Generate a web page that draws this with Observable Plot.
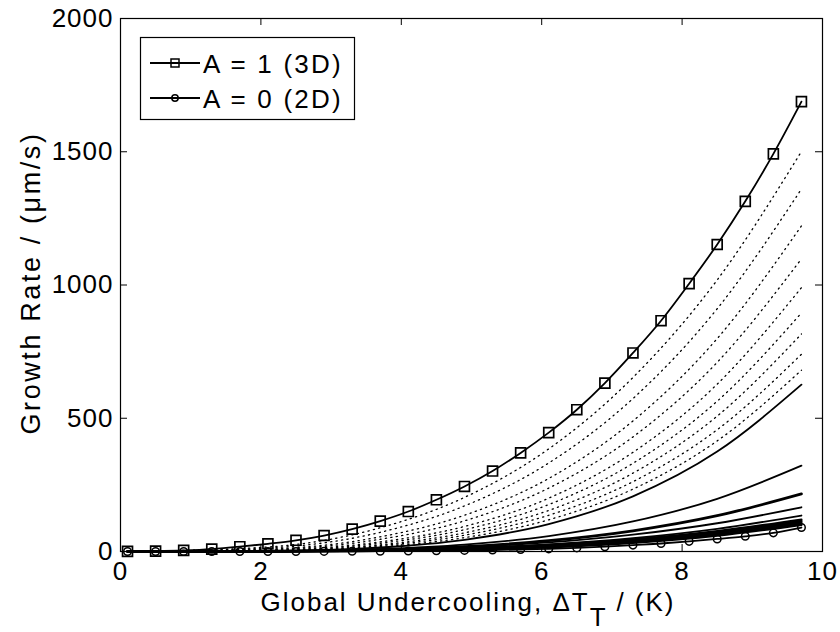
<!DOCTYPE html>
<html><head><meta charset="utf-8">
<script src="https://cdn.jsdelivr.net/npm/d3@7"></script>
<script src="https://cdn.jsdelivr.net/npm/@observablehq/plot@0.6"></script>
<style>
body{margin:0;background:#fff}
#chart{position:relative;width:840px;height:632px}
#chart svg g[aria-label="x-axis tick label"] text,
#chart svg g[aria-label="y-axis tick label"] text{letter-spacing:1px}
</style>
</head><body><div id="chart"></div>
<script>
// ---- data ----
const xTicks = [0, 2, 4, 6, 8, 10];
const yTicks = [0, 500, 1000, 1500, 2000];

// marker positions (global undercooling, K)
const markerDT = [0.1,0.5,0.9,1.3,1.7,2.1,2.5,2.9,3.3,3.7,4.1,4.5,4.9,5.3,5.7,6.1,6.5,6.9,7.3,7.7,8.1,8.5,8.9,9.3,9.7];
// A = 1 (3D), growth rate µm/s
const rate3D = [0.5,1.5,4,9,18,29,42,60,84,114,150,194,244,302,370,446,532,632,745,866,1005,1152,1314,1492,1688];
// A = 0 (2D)
const rate2D = [0,0,0,0,0,0.1,0.2,0.4,0.7,1.2,1.9,2.9,4.2,5.4,7.5,10,13.5,18,24,30,38,47,57,70,90];

// intermediate curves, sampled on a coarser grid
const gridDT = [0.1, 2.1, 3.7, 4.9, 6.1, 7.3, 8.5, 9.7];
const dottedRates = [
  [0, 17, 89, 203, 385, 653, 1019, 1501],
  [0, 13, 72, 171, 332, 574, 911, 1360],
  [0, 9, 55, 136, 274, 490, 799, 1222],
  [0, 7, 46, 115, 238, 430, 710, 1098],
  [0, 5, 36, 94, 200, 372, 628, 990],
  [0, 4, 31, 82, 176, 331, 564, 895],
  [0, 3.3, 25, 70, 154, 294, 508, 816],
  [0, 2.8, 22, 61, 136, 262, 457, 740],
  [0, 2.2, 18, 52, 119, 234, 415, 680]
];
const solidRates = [
  [0, 1.6, 15, 44, 103, 207, 375, 626],
  [0, 1.1, 9.1, 25.7, 57.8, 112.6, 197.7, 322],
  [0, 0.9, 6.3, 16.3, 34.3, 63.2, 106, 166],
  [0, 0.6, 4.6, 12.4, 26.6, 50, 85, 135]
];
const thickRates = [0, 0.9, 6.7, 18.5, 40.7, 77.7, 134.3, 216];
const bandRates = [
  [0, 0.7, 4.5, 11.8, 24.8, 45.7, 76.6, 120],
  [0, 0.5, 3.6, 10.2, 22.0, 42.0, 72.0, 115],
  [0, 0.4, 3.1, 8.8, 19.8, 38.5, 67.5, 110],
  [0, 0.3, 2.6, 7.6, 17.6, 35.2, 63.0, 105],
  [0, 0.2, 2.1, 6.5, 15.6, 32.1, 59, 100]
];

const legendLabels = ["A = 1 (3D)", "A = 0 (2D)"];
const xLabelMain = "Global Undercooling, \u0394T";
const xLabelSub = "T";
const xLabelTail = " / (K)";
const yLabel = "Growth Rate / (\u03BCm/s)";

// ---- build tables ----
const toRows = (sets) => sets.flatMap((vals, id) => vals.map((v, i) => ({id, x: gridDT[i], y: v})));
const dottedData = toRows(dottedRates);
const solidData = toRows(solidRates);
const bandData = toRows(bandRates);
const thickData = thickRates.map((v, i) => ({x: gridDT[i], y: v}));
const data3D = rate3D.map((v, i) => ({x: markerDT[i], y: v}));
const data2D = rate2D.map((v, i) => ({x: markerDT[i], y: v}));

const W = 840, H = 632, mL = 120, mR = 18, mT = 18, mB = 81;
const pw = W - mL - mR, ph = H - mT - mB, tk = 7;
const FONT = "'Liberation Sans', Arial, Helvetica, sans-serif";

const chart = Plot.plot({
  width: W, height: H,
  marginLeft: mL, marginRight: mR, marginTop: mT, marginBottom: mB,
  style: {fontFamily: FONT, fontSize: "26px", color: "#000", background: "#fff", overflow: "visible"},
  x: {domain: [0, 10]},
  y: {domain: [0, 2000]},
  marks: [
    Plot.line(dottedData, {x: "x", y: "y", z: "id", curve: "monotone-x", stroke: "#000", strokeWidth: 1.3, strokeDasharray: "1.2,4.3"}),
    Plot.line(solidData, {x: "x", y: "y", z: "id", curve: "monotone-x", stroke: "#000", strokeWidth: 1.8}),
    Plot.line(bandData, {x: "x", y: "y", z: "id", curve: "monotone-x", stroke: "#000", strokeWidth: 2.2}),
    Plot.line(thickData, {x: "x", y: "y", curve: "monotone-x", stroke: "#000", strokeWidth: 2.8}),
    Plot.line(data2D, {x: "x", y: "y", curve: "monotone-x", stroke: "#000", strokeWidth: 1.8}),
    Plot.dot(data2D, {x: "x", y: "y", symbol: "circle", r: 3.8, stroke: "#000", fill: "none", strokeWidth: 1.5}),
    Plot.line(data3D, {x: "x", y: "y", curve: "monotone-x", stroke: "#000", strokeWidth: 1.8}),
    Plot.dot(data3D, {x: "x", y: "y", symbol: "square", r: 5.6, stroke: "#000", fill: "none", strokeWidth: 1.7}),
    Plot.frame({stroke: "#000", strokeWidth: 1.2}),
    Plot.tickX(xTicks, {x: d => d, insetTop: ph - tk, stroke: "#000"}),
    Plot.tickX(xTicks, {x: d => d, insetBottom: ph - tk, stroke: "#000"}),
    Plot.tickY(yTicks, {y: d => d, insetRight: pw - tk, stroke: "#000"}),
    Plot.tickY(yTicks, {y: d => d, insetLeft: pw - tk, stroke: "#000"}),
    Plot.axisX(xTicks, {tickSize: 0, tickPadding: 10, label: null, fontSize: 26}),
    Plot.axisY(yTicks, {tickSize: 0, tickPadding: 7, label: null, fontSize: 26, tickFormat: d => String(d)})
  ]
});
document.getElementById("chart").appendChild(chart);

const svg = d3.select(chart);
// axis labels
const xl = svg.append("text")
  .attr("x", 468).attr("y", 611).attr("text-anchor", "middle")
  .attr("font-family", FONT).attr("font-size", 26).attr("letter-spacing", 2).attr("fill", "#000");
xl.append("tspan").text(xLabelMain);
xl.append("tspan").attr("dy", 15).text(xLabelSub);
xl.append("tspan").attr("dy", -15).text(xLabelTail);

svg.append("text")
  .attr("transform", "translate(40,283) rotate(-90)")
  .attr("text-anchor", "middle")
  .attr("font-family", FONT).attr("font-size", 27).attr("letter-spacing", 2.6).attr("fill", "#000")
  .text(yLabel);

// legend
const lg = svg.append("g");
lg.append("rect").attr("x", 140.5).attr("y", 37.5).attr("width", 214).attr("height", 82)
  .attr("fill", "#fff").attr("stroke", "#000").attr("stroke-width", 1.2);
const rows = [63, 98];
legendLabels.forEach((lab, i) => {
  const yy = rows[i];
  lg.append("line").attr("x1", 150).attr("x2", 200).attr("y1", yy).attr("y2", yy)
    .attr("stroke", "#000").attr("stroke-width", 1.8);
  if (i === 0) {
    lg.append("rect").attr("x", 171).attr("y", yy - 4).attr("width", 8).attr("height", 8)
      .attr("fill", "none").attr("stroke", "#000").attr("stroke-width", 1.5);
  } else {
    lg.append("circle").attr("cx", 175).attr("cy", yy).attr("r", 3.2)
      .attr("fill", "none").attr("stroke", "#000").attr("stroke-width", 1.5);
  }
  lg.append("text").attr("x", 203).attr("y", yy + 9.5).attr("text-anchor", "start")
    .attr("font-family", FONT).attr("font-size", 26).attr("letter-spacing", 2.2).attr("fill", "#000")
    .text(lab);
});
</script>
</body></html>
